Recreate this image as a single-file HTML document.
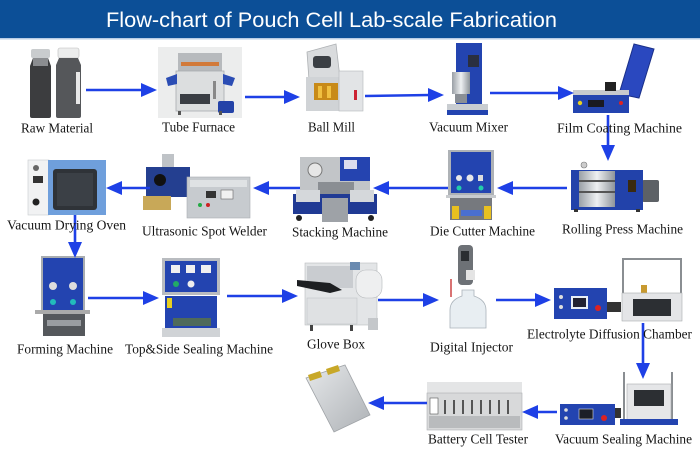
<!DOCTYPE html>
<html><head><meta charset="utf-8"><style>
html,body{margin:0;padding:0;background:#fff;}
svg{display:block;}
.lb{font-family:"Liberation Serif",serif;font-size:13.5px;fill:#151515;}
</style></head><body>
<svg width="700" height="467" viewBox="0 0 700 467" xmlns="http://www.w3.org/2000/svg">
<defs>
<linearGradient id="steel" x1="0" y1="0" x2="1" y2="0"><stop offset="0" stop-color="#9aa0a6"/><stop offset=".5" stop-color="#eef0f2"/><stop offset="1" stop-color="#8e949a"/></linearGradient>
<linearGradient id="pouch" x1="0" y1="0" x2="1" y2="1"><stop offset="0" stop-color="#e6e8ea"/><stop offset="1" stop-color="#aeb2b6"/></linearGradient>
</defs>
<rect width="700" height="467" fill="#fff"/>
<!-- header -->
<rect x="0" y="0" width="700" height="38" fill="#0c4f97"/>
<rect x="0" y="38" width="700" height="1.5" fill="#b8cde6"/>
<text x="106" y="27" font-family="Liberation Sans, sans-serif" font-size="21" fill="#fff" textLength="451" lengthAdjust="spacingAndGlyphs">Flow-chart of Pouch Cell Lab-scale Fabrication</text>

<!-- ===== Row 1 ===== -->
<!-- Raw material bottles -->
<rect x="31" y="49" width="19" height="9" rx="2" fill="#c9ccce"/>
<path d="M33 58 h15 l3 8 v50 q0 2 -2 2 h-17 q-2 0 -2 -2 v-50 z" fill="#3c3d3f"/>
<rect x="33" y="58" width="15" height="8" fill="#8b8d90"/>
<rect x="58" y="48" width="21" height="10" rx="2" fill="#eceded" stroke="#bbb" stroke-width=".6"/>
<path d="M59 58 h19 l3 7 v51 q0 2 -2 2 h-21 q-2 0 -2 -2 v-51 z" fill="#55575a"/>
<rect x="76" y="72" width="4" height="32" fill="#e8e8e8"/>

<!-- Tube furnace -->
<rect x="158" y="47" width="84" height="71" fill="#eceded"/>
<rect x="178" y="53" width="44" height="18" fill="#b7babd"/>
<rect x="181" y="62" width="38" height="4" fill="#d27a3a"/>
<rect x="176" y="71" width="48" height="40" fill="#dcdedf" stroke="#a8abae" stroke-width=".8"/>
<rect x="180" y="94" width="30" height="10" fill="#3a3e44"/>
<polygon points="166,78 177,74 177,84 168,86" fill="#2b4db4"/>
<polygon points="223,74 235,78 232,86 223,84" fill="#2b4db4"/>
<rect x="213" y="81" width="3" height="18" fill="#888"/>
<rect x="218" y="101" width="16" height="12" rx="2" fill="#2443a8"/>
<rect x="178" y="111" width="3" height="4" fill="#555"/><rect x="219" y="111" width="3" height="4" fill="#555"/>

<!-- Ball mill -->
<polygon points="307,52 336,44 340,78 309,80" fill="#d9dbdd" stroke="#aeb1b4" stroke-width=".8"/>
<rect x="313" y="56" width="18" height="12" rx="3" fill="#3b3f44"/>
<rect x="306" y="77" width="35" height="34" fill="#d0d3d6"/>
<rect x="339" y="71" width="24" height="40" fill="#e2e4e6" stroke="#b5b8bb" stroke-width=".6"/>
<rect x="314" y="83" width="24" height="17" fill="#c88a18"/>
<rect x="318" y="86" width="4" height="12" fill="#f0c040"/><rect x="327" y="86" width="4" height="12" fill="#f0c040"/>
<rect x="354" y="90" width="3" height="10" fill="#c23"/>

<!-- Vacuum mixer -->
<rect x="456" y="43" width="26" height="64" fill="#2344b0"/>
<rect x="468" y="55" width="11" height="12" fill="#2a2f40"/>
<rect x="452" y="72" width="18" height="22" fill="url(#steel)"/>
<rect x="455" y="94" width="12" height="9" fill="#8a8f95"/>
<rect x="447" y="104" width="41" height="9" fill="#c9cdd1"/>
<rect x="447" y="110" width="41" height="5" fill="#2344b0"/>

<!-- Film coating -->
<polygon points="619,94 634,44 654,49 639,98" fill="#2a48bf" stroke="#1a2f88" stroke-width="1"/>
<rect x="573" y="90" width="56" height="6" fill="#c7cacd"/>
<rect x="605" y="82" width="11" height="9" fill="#222"/>
<rect x="573" y="95" width="56" height="18" fill="#2344b0"/>
<rect x="588" y="100" width="16" height="7" fill="#1a1a22"/>
<circle cx="580" cy="103" r="2.2" fill="#e8d020"/>
<circle cx="621" cy="103" r="2" fill="#d22"/>

<!-- ===== Row 2 ===== -->
<!-- Vacuum drying oven -->
<rect x="28" y="160" width="21" height="55" fill="#f1f2f3" stroke="#c9cbcd" stroke-width=".6"/>
<circle cx="36" cy="168" r="3" fill="#666"/>
<rect x="33" y="176" width="10" height="7" fill="#333"/>
<circle cx="36" cy="202" r="3.5" fill="#222"/>
<rect x="48" y="160" width="58" height="55" fill="#6f9fdc"/>
<rect x="53" y="169" width="44" height="41" rx="3" fill="#2f3338"/>
<rect x="57" y="173" width="36" height="33" fill="#3b4046"/>

<!-- Ultrasonic welder -->
<rect x="162" y="154" width="12" height="15" fill="#bfc3c7"/>
<rect x="146" y="167" width="44" height="30" fill="#243f90"/>
<circle cx="160" cy="180" r="6" fill="#111"/>
<rect x="143" y="196" width="28" height="14" fill="#c8a858"/>
<rect x="187" y="177" width="63" height="41" fill="#c7cbcf" stroke="#a9adb1" stroke-width=".6"/>
<rect x="190" y="180" width="57" height="7" fill="#dfe2e4"/>
<rect x="206" y="191" width="10" height="7" fill="#333"/>
<rect x="221" y="190" width="12" height="9" fill="#f1f1f1" stroke="#666" stroke-width=".6"/>
<circle cx="200" cy="205" r="2" fill="#2a4"/><circle cx="208" cy="205" r="2" fill="#c22"/>

<!-- Stacking machine -->
<rect x="300" y="157" width="70" height="40" fill="#c2c5c8"/>
<circle cx="315" cy="170" r="7" fill="#e6e6e6" stroke="#777" stroke-width="1"/>
<rect x="340" y="157" width="30" height="24" fill="#2544b0"/>
<rect x="344" y="160" width="13" height="9" fill="#dde"/>
<rect x="318" y="182" width="36" height="18" fill="#8a8e93"/>
<rect x="293" y="194" width="84" height="20" fill="#203a94"/>
<rect x="296" y="190" width="24" height="12" fill="#d5d8db"/>
<rect x="350" y="190" width="24" height="12" fill="#d5d8db"/>
<rect x="322" y="198" width="26" height="24" fill="#9ea2a7"/>
<circle cx="299" cy="218" r="3" fill="#222"/><circle cx="371" cy="218" r="3" fill="#222"/>

<!-- Die cutter -->
<rect x="448" y="150" width="46" height="46" fill="#aeb2b6"/>
<rect x="451" y="152" width="40" height="41" fill="#2344b0"/>
<circle cx="459" cy="178" r="3" fill="#e8e8e8"/><circle cx="470" cy="178" r="3.5" fill="#e8e8e8"/><rect x="478" y="175" width="5" height="6" fill="#ddd"/>
<circle cx="459" cy="188" r="2.5" fill="#2ca"/><circle cx="481" cy="188" r="2.5" fill="#2ca"/>
<rect x="446" y="195" width="50" height="3" fill="#c8cbce"/>
<rect x="450" y="198" width="42" height="22" fill="#76797e"/>
<rect x="452" y="206" width="7" height="13" fill="#e8c020"/>
<rect x="484" y="206" width="7" height="13" fill="#e8c020"/>
<rect x="461" y="210" width="21" height="6" fill="#4a6fd0"/>

<!-- Rolling press -->
<rect x="642" y="180" width="17" height="22" rx="2" fill="#5d6166"/>
<rect x="571" y="170" width="72" height="40" fill="#2242aa"/>
<rect x="579" y="171" width="36" height="36" fill="url(#steel)"/>
<rect x="579" y="180" width="36" height="2" fill="#555"/><rect x="579" y="191" width="36" height="2" fill="#555"/>
<rect x="628" y="180" width="8" height="12" fill="#3a2a10"/>
<circle cx="584" cy="165" r="3" fill="#ccc" stroke="#777" stroke-width=".6"/>
<rect x="574" y="209" width="4" height="3" fill="#333"/><rect x="636" y="209" width="4" height="3" fill="#333"/>

<!-- ===== Row 3 ===== -->
<!-- Forming machine -->
<rect x="41" y="256" width="44" height="58" fill="#a8acb0"/>
<rect x="43" y="258" width="40" height="53" fill="#2344b0"/>
<circle cx="53" cy="286" r="4" fill="#ddd"/><circle cx="73" cy="286" r="4" fill="#ddd"/>
<circle cx="53" cy="302" r="3" fill="#2bb"/><circle cx="73" cy="302" r="3" fill="#2bb"/>
<rect x="35" y="310" width="55" height="4" fill="#aaa"/>
<rect x="43" y="314" width="42" height="22" fill="#55585c"/>
<rect x="47" y="320" width="34" height="6" fill="#9a9da1"/>

<!-- Top & side sealing -->
<rect x="162" y="258" width="58" height="37" fill="#b9bcc0"/>
<rect x="165" y="261" width="52" height="31" fill="#2344b0"/>
<rect x="171" y="265" width="9" height="8" fill="#f0f0f0"/><rect x="186" y="265" width="9" height="8" fill="#f0f0f0"/><rect x="201" y="265" width="10" height="8" fill="#f0f0f0"/>
<circle cx="176" cy="284" r="3" fill="#2a6"/><circle cx="191" cy="284" r="3.5" fill="#eee"/>
<rect x="165" y="296" width="52" height="32" fill="#2344b0"/>
<rect x="167" y="298" width="5" height="10" fill="#e8d020"/>
<rect x="173" y="318" width="38" height="8" fill="#4f6a5a"/>
<rect x="162" y="328" width="58" height="9" fill="#d0d3d6"/>

<!-- Glove box -->
<rect x="305" y="263" width="72" height="62" fill="#e3e5e7" stroke="#b9bcbf" stroke-width=".6"/>
<rect x="307" y="266" width="46" height="22" fill="#c9ccd0"/>
<polygon points="297,280 330,283 342,290 330,293 297,286" fill="#1d1f22"/>
<rect x="350" y="262" width="10" height="8" fill="#6a8ab0"/>
<rect x="356" y="270" width="26" height="28" rx="10" fill="#eeeff0" stroke="#b5b8bb" stroke-width=".6"/>
<rect x="307" y="298" width="50" height="26" fill="#dfe1e3" stroke="#c2c5c8" stroke-width=".6"/>
<rect x="310" y="325" width="3" height="6" fill="#444"/><rect x="350" y="325" width="3" height="6" fill="#444"/>
<rect x="368" y="318" width="10" height="12" fill="#c4c7ca"/>

<!-- Digital injector -->
<rect x="458" y="245" width="15" height="40" rx="4" fill="#6d7176"/>
<rect x="461" y="251" width="8" height="10" fill="#2a2d31"/>
<rect x="466" y="270" width="9" height="10" fill="#e4e4e4"/>
<path d="M451 279 v18" stroke="#c44" stroke-width="1.5"/>
<path d="M462 290 h12 v6 q12 4 12 14 v18 h-36 v-18 q0 -10 12 -14 z" fill="#e8eef2" stroke="#aab3ba" stroke-width=".8"/>

<!-- Electrolyte diffusion chamber -->
<rect x="554" y="288" width="53" height="31" fill="#2344b0"/>
<rect x="571" y="296" width="17" height="13" fill="#e8eef6"/>
<rect x="573" y="298" width="13" height="9" fill="#223"/>
<circle cx="561" cy="297" r="2" fill="#ddd"/><circle cx="561" cy="307" r="2" fill="#ddd"/>
<circle cx="598" cy="308" r="3" fill="#d22"/>
<rect x="607" y="302" width="14" height="10" fill="#333"/>
<rect x="622" y="258" width="2" height="62" fill="#8a8e92"/><rect x="680" y="258" width="2" height="62" fill="#8a8e92"/>
<rect x="622" y="258" width="60" height="2" fill="#8a8e92"/>
<rect x="641" y="285" width="6" height="9" fill="#c89a30"/>
<rect x="622" y="293" width="60" height="28" fill="#e4e5e7" stroke="#a9acaf" stroke-width=".6"/>
<rect x="633" y="299" width="38" height="17" fill="#2c2f33"/>

<!-- ===== Row 4 ===== -->
<!-- Pouch cell -->
<polygon points="306,378 345,365 370,415 334,432" fill="url(#pouch)" stroke="#9ea2a6" stroke-width=".8"/>
<polygon points="308,375 320,371 322,377 310,381" fill="#c8a828"/>
<polygon points="326,369 338,365 340,371 328,375" fill="#c8a828"/>

<!-- Battery cell tester -->
<rect x="427" y="382" width="95" height="12" fill="#e4e5e6"/>
<rect x="427" y="393" width="95" height="37" fill="#d8d9da" stroke="#aeb0b2" stroke-width=".6"/>
<rect x="430" y="398" width="8" height="16" fill="#fff" stroke="#555" stroke-width=".6"/>
<g fill="#555"><rect x="444" y="400" width="2" height="14"/><rect x="453" y="400" width="2" height="14"/><rect x="462" y="400" width="2" height="14"/><rect x="471" y="400" width="2" height="14"/><rect x="480" y="400" width="2" height="14"/><rect x="489" y="400" width="2" height="14"/><rect x="498" y="400" width="2" height="14"/><rect x="507" y="400" width="2" height="14"/></g>
<rect x="429" y="416" width="91" height="12" fill="#b9bbbd"/>

<!-- Vacuum sealing machine -->
<rect x="560" y="404" width="55" height="21" fill="#2344b0"/>
<rect x="579" y="409" width="14" height="10" fill="#1c1f28" stroke="#ddd" stroke-width=".6"/>
<circle cx="566" cy="410" r="1.8" fill="#ddd"/><circle cx="566" cy="418" r="1.8" fill="#ddd"/>
<circle cx="604" cy="418" r="3" fill="#d22"/>
<rect x="615" y="408" width="6" height="10" fill="#333"/>
<rect x="623" y="372" width="2" height="50" fill="#8a8e92"/><rect x="671" y="372" width="2" height="50" fill="#8a8e92"/>
<rect x="627" y="384" width="44" height="36" fill="#e5e6e8" stroke="#a9acaf" stroke-width=".6"/>
<rect x="634" y="390" width="30" height="16" fill="#2c2f33"/>
<rect x="620" y="419" width="58" height="6" fill="#2344b0"/>

<!-- ===== Arrows ===== -->
<g stroke="#1e40e6" stroke-width="2.6" fill="none">
<line x1="86" y1="90" x2="143" y2="90"/>
<line x1="245" y1="97" x2="286" y2="97"/>
<line x1="365" y1="96" x2="430" y2="95"/>
<line x1="490" y1="93" x2="560" y2="93"/>
<line x1="608" y1="115" x2="608" y2="147"/>
<line x1="567" y1="188" x2="510" y2="188"/>
<line x1="448" y1="188" x2="386" y2="188"/>
<line x1="300" y1="188" x2="266" y2="188"/>
<line x1="150" y1="188" x2="119" y2="188"/>
<line x1="75" y1="215" x2="75" y2="244"/>
<line x1="88" y1="298" x2="145" y2="298"/>
<line x1="227" y1="296" x2="284" y2="296"/>
<line x1="378" y1="300" x2="425" y2="300"/>
<line x1="496" y1="300" x2="537" y2="300"/>
<line x1="643" y1="323" x2="643" y2="365"/>
<line x1="557" y1="412" x2="535" y2="412"/>
<line x1="427" y1="403" x2="381" y2="403"/>
</g>
<g fill="#1e40e6">
<polygon points="141,83 157,90 141,97"/>
<polygon points="284,90 300,97 284,104"/>
<polygon points="428,88 444,95 428,102"/>
<polygon points="558,86 574,93 558,100"/>
<polygon points="601,145 608,161 615,145"/>
<polygon points="513,181 497,188 513,195"/>
<polygon points="389,181 373,188 389,195"/>
<polygon points="269,181 253,188 269,195"/>
<polygon points="122,181 106,188 122,195"/>
<polygon points="68,242 75,258 82,242"/>
<polygon points="143,291 159,298 143,305"/>
<polygon points="282,289 298,296 282,303"/>
<polygon points="423,293 439,300 423,307"/>
<polygon points="535,293 551,300 535,307"/>
<polygon points="636,363 643,379 650,363"/>
<polygon points="538,405 522,412 538,419"/>
<polygon points="384,396 368,403 384,410"/>
</g>

<!-- ===== Labels ===== -->
<text class="lb" x="21" y="132.5" textLength="72" lengthAdjust="spacingAndGlyphs">Raw Material</text>
<text class="lb" x="162" y="131.5" textLength="73" lengthAdjust="spacingAndGlyphs">Tube Furnace</text>
<text class="lb" x="308" y="131.5" textLength="47" lengthAdjust="spacingAndGlyphs">Ball Mill</text>
<text class="lb" x="429" y="131.5" textLength="79" lengthAdjust="spacingAndGlyphs">Vacuum Mixer</text>
<text class="lb" x="557" y="132.5" textLength="125" lengthAdjust="spacingAndGlyphs">Film Coating Machine</text>
<text class="lb" x="7" y="229.5" textLength="119" lengthAdjust="spacingAndGlyphs">Vacuum Drying Oven</text>
<text class="lb" x="142" y="235.5" textLength="125" lengthAdjust="spacingAndGlyphs">Ultrasonic Spot Welder</text>
<text class="lb" x="292" y="236.5" textLength="96" lengthAdjust="spacingAndGlyphs">Stacking Machine</text>
<text class="lb" x="430" y="235.5" textLength="105" lengthAdjust="spacingAndGlyphs">Die Cutter Machine</text>
<text class="lb" x="562" y="233.5" textLength="121" lengthAdjust="spacingAndGlyphs">Rolling Press Machine</text>
<text class="lb" x="17" y="353.5" textLength="96" lengthAdjust="spacingAndGlyphs">Forming Machine</text>
<text class="lb" x="125" y="353.5" textLength="148" lengthAdjust="spacingAndGlyphs">Top&amp;Side Sealing Machine</text>
<text class="lb" x="307" y="348.5" textLength="58" lengthAdjust="spacingAndGlyphs">Glove Box</text>
<text class="lb" x="430" y="351.5" textLength="83" lengthAdjust="spacingAndGlyphs">Digital Injector</text>
<text class="lb" x="527" y="338.5" textLength="165" lengthAdjust="spacingAndGlyphs">Electrolyte Diffusion Chamber</text>
<text class="lb" x="428" y="443.5" textLength="100" lengthAdjust="spacingAndGlyphs">Battery Cell Tester</text>
<text class="lb" x="555" y="443.5" textLength="137" lengthAdjust="spacingAndGlyphs">Vacuum Sealing Machine</text>
</svg>
</body></html>
